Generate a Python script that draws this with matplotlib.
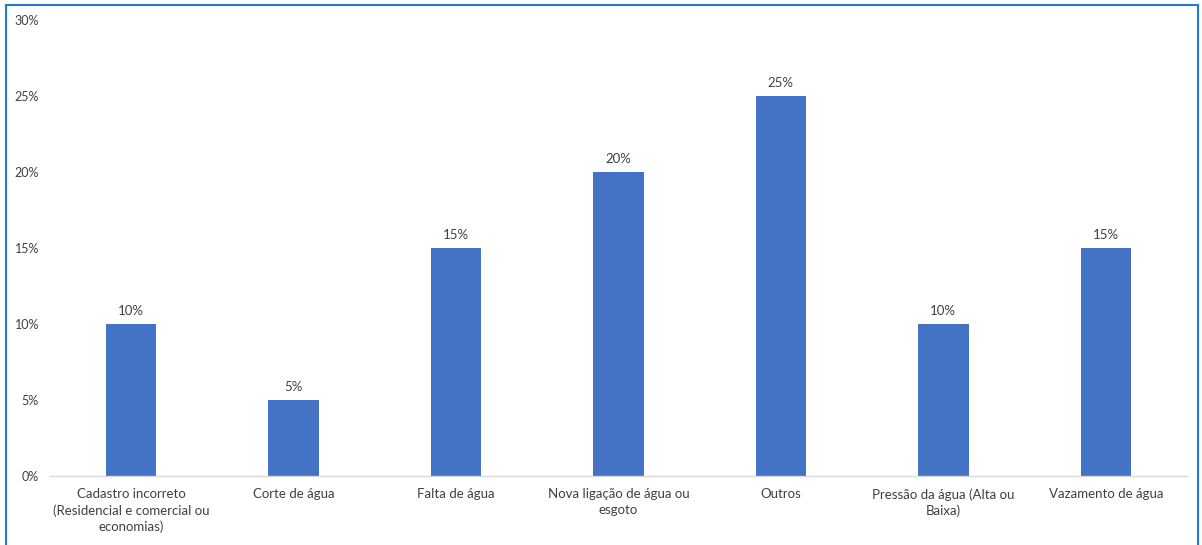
import matplotlib
matplotlib.use("Agg")
import matplotlib.pyplot as plt
from matplotlib.patches import Rectangle
from matplotlib.ticker import FuncFormatter

categories = [
    "Cadastro incorreto\n(Residencial e comercial ou\neconomias)",
    "Corte de água",
    "Falta de água",
    "Nova ligação de água ou\nesgoto",
    "Outros",
    "Pressão da água (Alta ou\nBaixa)",
    "Vazamento de água",
]
values = [0.10, 0.05, 0.15, 0.20, 0.25, 0.10, 0.15]
yticks = [0, 0.05, 0.10, 0.15, 0.20, 0.25, 0.30]

plt.rcParams['font.family'] = ['Lato', 'DejaVu Sans']

fig = plt.figure(figsize=(12.02, 5.45), dpi=100)
ax = fig.add_axes([50/1202, 1-476/545, (1187-50)/1202, 456/545])

x = range(len(categories))
bars = ax.bar(x, values, width=0.31, color="#4472C4", zorder=2)
ax.set_xlim(-0.5, len(categories)-0.5)
ax.set_ylim(0, 0.30)
ax.set_yticks(yticks)
ax.yaxis.set_major_formatter(FuncFormatter(lambda v, p: f"{v*100:.0f}%"))
ax.set_xticks(list(x))
ax.set_xticklabels(categories, fontsize=9.5, color="#404040", linespacing=1.35)
ax.tick_params(axis='y', length=0, pad=8, labelsize=9, labelcolor="#404040")
ax.tick_params(axis='x', length=0, pad=9)
for s in ["top", "right", "left"]:
    ax.spines[s].set_visible(False)
ax.spines["bottom"].set_color("#D9D9D9")
ax.spines["bottom"].set_linewidth(1.0)

for b, v in zip(bars, values):
    ax.annotate(f"{v*100:.0f}%", (b.get_x()+b.get_width()/2, v), xytext=(0, 5),
                textcoords="offset points", ha="center", va="bottom",
                fontsize=9.5, color="#404040")

fig.patches.append(Rectangle((6/1202, -0.02), (1198-6)/1202, 1.02-5/545 ,
                             transform=fig.transFigure, fill=False,
                             edgecolor="#1E7BD4", linewidth=1.5))

fig.savefig("out.png", dpi=100)
